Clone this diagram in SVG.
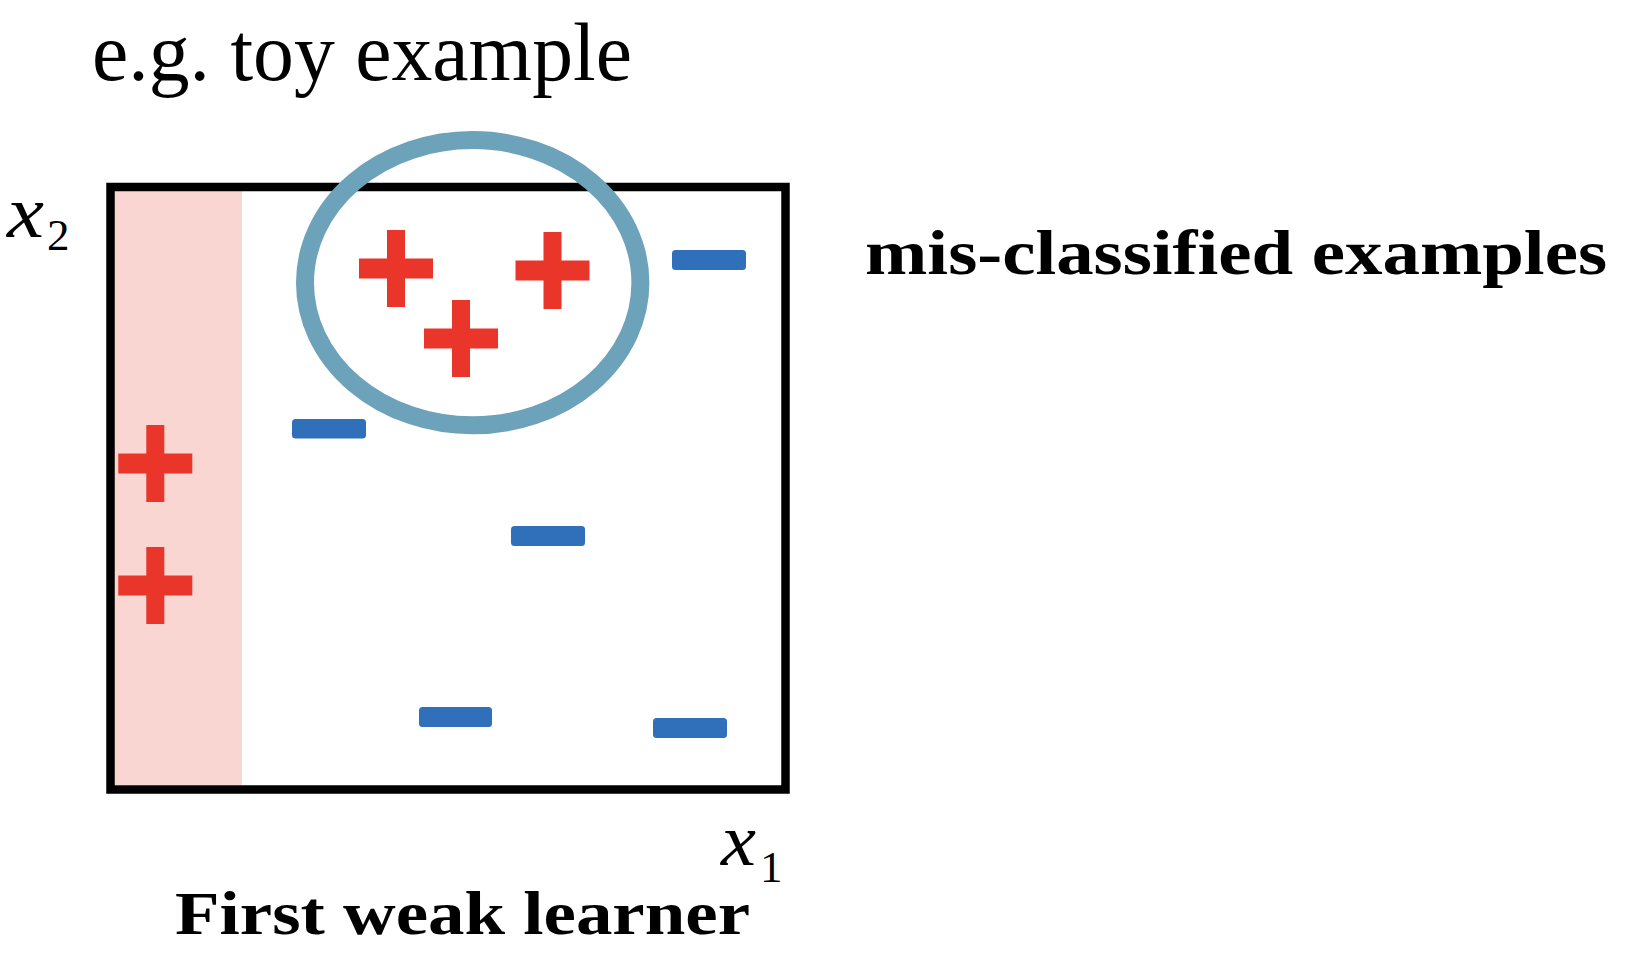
<svg xmlns="http://www.w3.org/2000/svg" xmlns:xlink="http://www.w3.org/1999/xlink" width="1632" height="970" viewBox="0 0 1632 970">
<style>
.serif{font-family:"Liberation Serif","Times New Roman",serif;fill:#000}
.bold{font-weight:bold}
.ital{font-style:italic}
.minus{fill:#306FB9}
.plus{fill:#E9352A}
</style>
<defs>
<path id="plus" d="M-37,-10H-9V-38.5H9V-10H37V10H9V38.5H-9V10H-37Z"/>
</defs>
<rect width="1632" height="970" fill="#fff"/>
<g id="title"><text class="serif" x="92" y="80" font-size="82" textLength="540" lengthAdjust="spacingAndGlyphs">e.g. toy example</text></g>
<g id="plot">
<rect id="region" x="114" y="191" width="128" height="594" fill="#FAD6D3"/>
<rect id="frame" x="110.5" y="187" width="675" height="602.5" fill="none" stroke="#000" stroke-width="8.5"/>
</g>
<g id="pluses" class="plus">
<use xlink:href="#plus" x="396" y="268.5"/>
<use xlink:href="#plus" x="552.5" y="270.5"/>
<use xlink:href="#plus" x="461" y="338.5"/>
<use xlink:href="#plus" x="155.3" y="463.4"/>
<use xlink:href="#plus" x="155.3" y="585.5"/>
</g>
<g id="minuses" class="minus">
<rect x="292" y="419" width="74" height="19.5" rx="3.5"/>
<rect x="672" y="250" width="74" height="20" rx="3.5"/>
<rect x="511" y="526" width="74" height="20" rx="3.5"/>
<rect x="419" y="707" width="73" height="20" rx="3.5"/>
<rect x="653" y="718" width="74" height="20" rx="3.5"/>
</g>
<g id="highlight"><ellipse cx="472.7" cy="282.7" rx="167.7" ry="142.6" fill="none" stroke="#6DA2BB" stroke-width="18"/></g>
<g id="label-x2"><text class="serif ital" x="7" y="237" font-size="74" textLength="37" lengthAdjust="spacingAndGlyphs">x</text><text class="serif" x="47" y="250" font-size="45">2</text></g>
<g id="label-x1"><text class="serif ital" x="721" y="865" font-size="74" textLength="35" lengthAdjust="spacingAndGlyphs">x</text><text class="serif" x="760" y="882" font-size="45">1</text></g>
<g id="label-misclassified"><text class="serif bold" x="865" y="274" font-size="64" textLength="742" lengthAdjust="spacingAndGlyphs">mis-classified examples</text></g>
<g id="label-learner"><text class="serif bold" x="175" y="934" font-size="62" textLength="575" lengthAdjust="spacingAndGlyphs">First weak learner</text></g>
<g id="connectors"/>
</svg>
